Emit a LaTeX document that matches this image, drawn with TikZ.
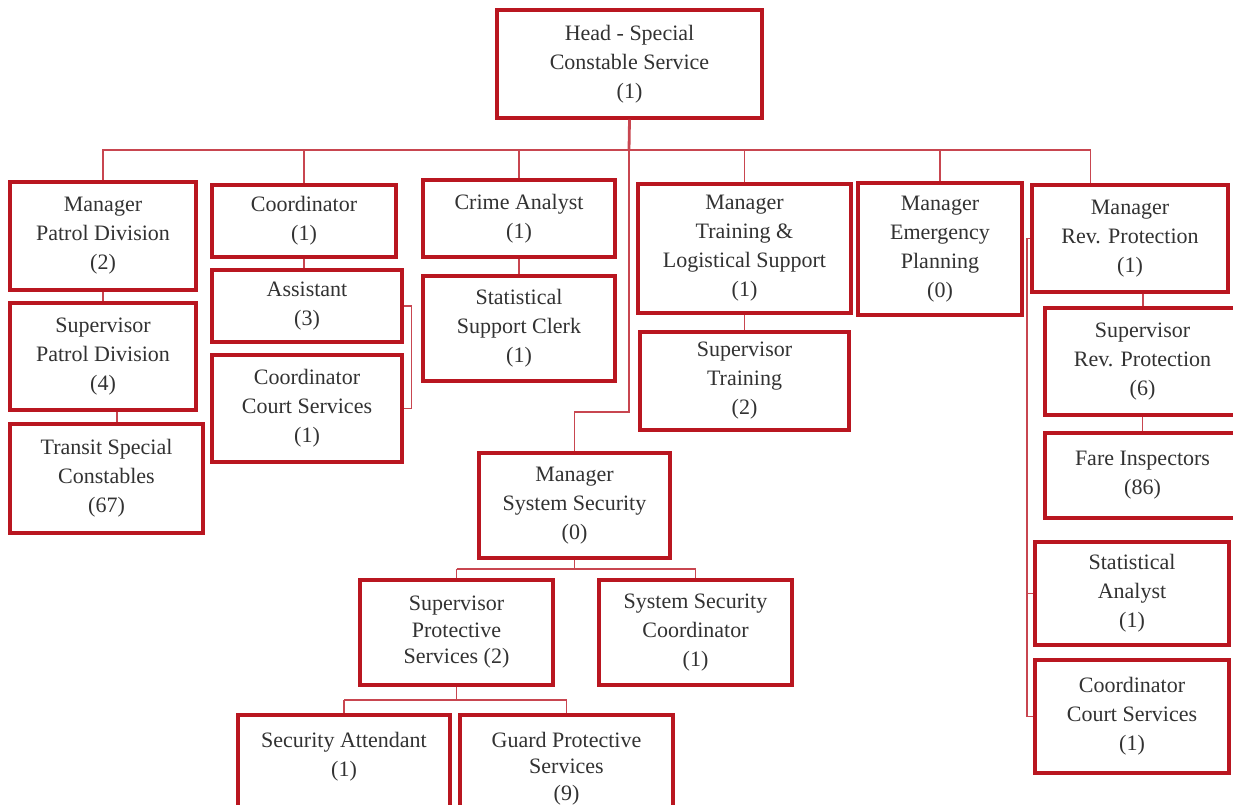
\documentclass[tikz,border=0pt]{standalone}
\usepackage{fontspec}
\setmainfont{Liberation Serif}
\usetikzlibrary{calc}
\definecolor{boxred}{RGB}{185,22,32}
\definecolor{linered}{RGB}{200,70,80}
\definecolor{txtgray}{RGB}{50,50,50}
\begin{document}
\begin{tikzpicture}[x=1pt,y=-1pt,
  orgbox/.style={draw=boxred, line width=3.2pt, fill=white, align=center,
    inner sep=2pt, text=txtgray, font=\fontsize{22}{29}\selectfont},
  tightbox/.style={font=\fontsize{22}{26.5}\selectfont},
  bx/.style n args={2}{minimum width=#1pt, minimum height=#2pt},
  conn/.style={draw=linered, line width=1.3pt},
]
\useasboundingbox (0,0) rectangle (1233,805);
\clip (0,0) rectangle (1233,805);

% boxes
\node[orgbox, bx={265}{108}] (head) at (629.5,64) {Head - Special\\Constable Service\\(1)};
\node[orgbox, bx={186}{108}] (mpd) at (103,236) {Manager\\Patrol Division\\(2)};
\node[orgbox, bx={186}{107}] (spd) at (103,356.5) {Supervisor\\Patrol Division\\(4)};
\node[orgbox, bx={193}{109}] (tsc) at (106.5,478.5) {Transit Special\\Constables\\(67)};
\node[orgbox, bx={184}{72}] (coord) at (304,221) {Coordinator\\(1)};
\node[orgbox, bx={190}{72}] (asst) at (307,306) {Assistant\\(3)};
\node[orgbox, bx={190}{107}] (ccsl) at (307,408.5) {Coordinator\\Court Services\\(1)};
\node[orgbox, bx={192}{77}] (crime) at (519,218.5) {Crime Analyst\\(1)};
\node[orgbox, bx={192}{105}] (ssc) at (519,328.5) {Statistical\\Support Clerk\\(1)};
\node[orgbox, bx={213}{129}] (mtls) at (744.5,248.5) {Manager\\Training \&\\Logistical Support\\(1)};
\node[orgbox, bx={209}{98}] (strn) at (744.5,381) {Supervisor\\Training\\(2)};
\node[orgbox, bx={164}{132}] (mep) at (940,249) {Manager\\Emergency\\Planning\\(0)};
\node[orgbox, bx={196}{107}] (mrp) at (1130,238.5) {Manager\\Rev. Protection\\(1)};
\node[orgbox, bx={195}{107}] (srp) at (1142.5,361.5) {Supervisor\\Rev. Protection\\(6)};
\node[orgbox, bx={195}{85}] (fare) at (1142.5,475.5) {Fare Inspectors\\(86)};
\node[orgbox, bx={194}{103}] (sa) at (1132,593.5) {Statistical\\Analyst\\(1)};
\node[orgbox, bx={194}{113}] (ccsr) at (1132,716.5) {Coordinator\\Court Services\\(1)};
\node[orgbox, bx={191}{105}] (mss) at (574.5,505.5) {Manager\\System Security\\(0)};
\node[orgbox, tightbox, bx={193}{105}] (sps) at (456.5,632.5) {Supervisor\\Protective\\Services (2)};
\node[orgbox, bx={193}{105}] (ssco) at (695.5,632.5) {System Security\\Coordinator\\(1)};
\node[orgbox, bx={212}{116}] (satt) at (344,773) {Security Attendant\\(1)\\\strut};
\node[orgbox, tightbox, bx={213}{137}] (gps) at (566.5,783.5) {Guard Protective\\Services\\(9)\\\strut};

% helper coordinates
\coordinate (busc) at (629,150);
\coordinate (jog) at (629,412);
\coordinate (mrpin) at ($(mrp.north west)!0.3!(mrp.north east)$);
\coordinate (spine) at (1027,0);
\coordinate (b1) at (574.5,569);
\coordinate (b2) at (456.5,700);

% connectors
\draw[conn, line width=2.8pt] (head.south) -- (busc);
\draw[conn, line width=1.8pt] (mpd.north) |- (busc) -- (mep.north |- busc);
\draw[conn, line width=1.2pt] (mep.north |- busc) -- (mrpin |- busc) -- (mrpin);
\draw[conn] (coord.north) -- (coord.north |- busc);
\draw[conn] (crime.north) -- (crime.north |- busc);
\draw[conn] (mtls.north) -- (mtls.north |- busc);
\draw[conn] (mep.north) -- (mep.north |- busc);
\draw[conn] (busc) -- (jog) -| (mss.north);

\draw[conn] (mpd.south) -- (spd.north);
\draw[conn] ([xshift=14pt]spd.south) -- ([xshift=14pt]spd.south |- tsc.north);
\draw[conn] (coord.south) -- (coord.south |- asst.north);
\draw[conn] (asst.east) -- ++(8,0) |- (ccsl.east);
\draw[conn] (crime.south) -- (ssc.north);
\draw[conn] (mtls.south) -- (strn.north);
\draw[conn] ([xshift=13pt]mrp.south) -- ([xshift=13pt]mrp.south |- srp.north);
\draw[conn] (srp.south) -- (srp.south |- fare.north);
\draw[conn] (mrp.west) -| (spine |- ccsr.west) -- (ccsr.west);
\draw[conn] (sa.west) -- (sa.west -| spine);

\draw[conn] (mss.south) -- (b1);
\draw[conn] (sps.north |- b1) -- (ssco.north |- b1);
\draw[conn] (sps.north) -- (sps.north |- b1);
\draw[conn] (ssco.north) -- (ssco.north |- b1);
\draw[conn] (sps.south) -- (b2);
\draw[conn] (satt.north |- b2) -- (gps.north |- b2);
\draw[conn] (satt.north) -- (satt.north |- b2);
\draw[conn] (gps.north) -- (gps.north |- b2);
\end{tikzpicture}
\end{document}
